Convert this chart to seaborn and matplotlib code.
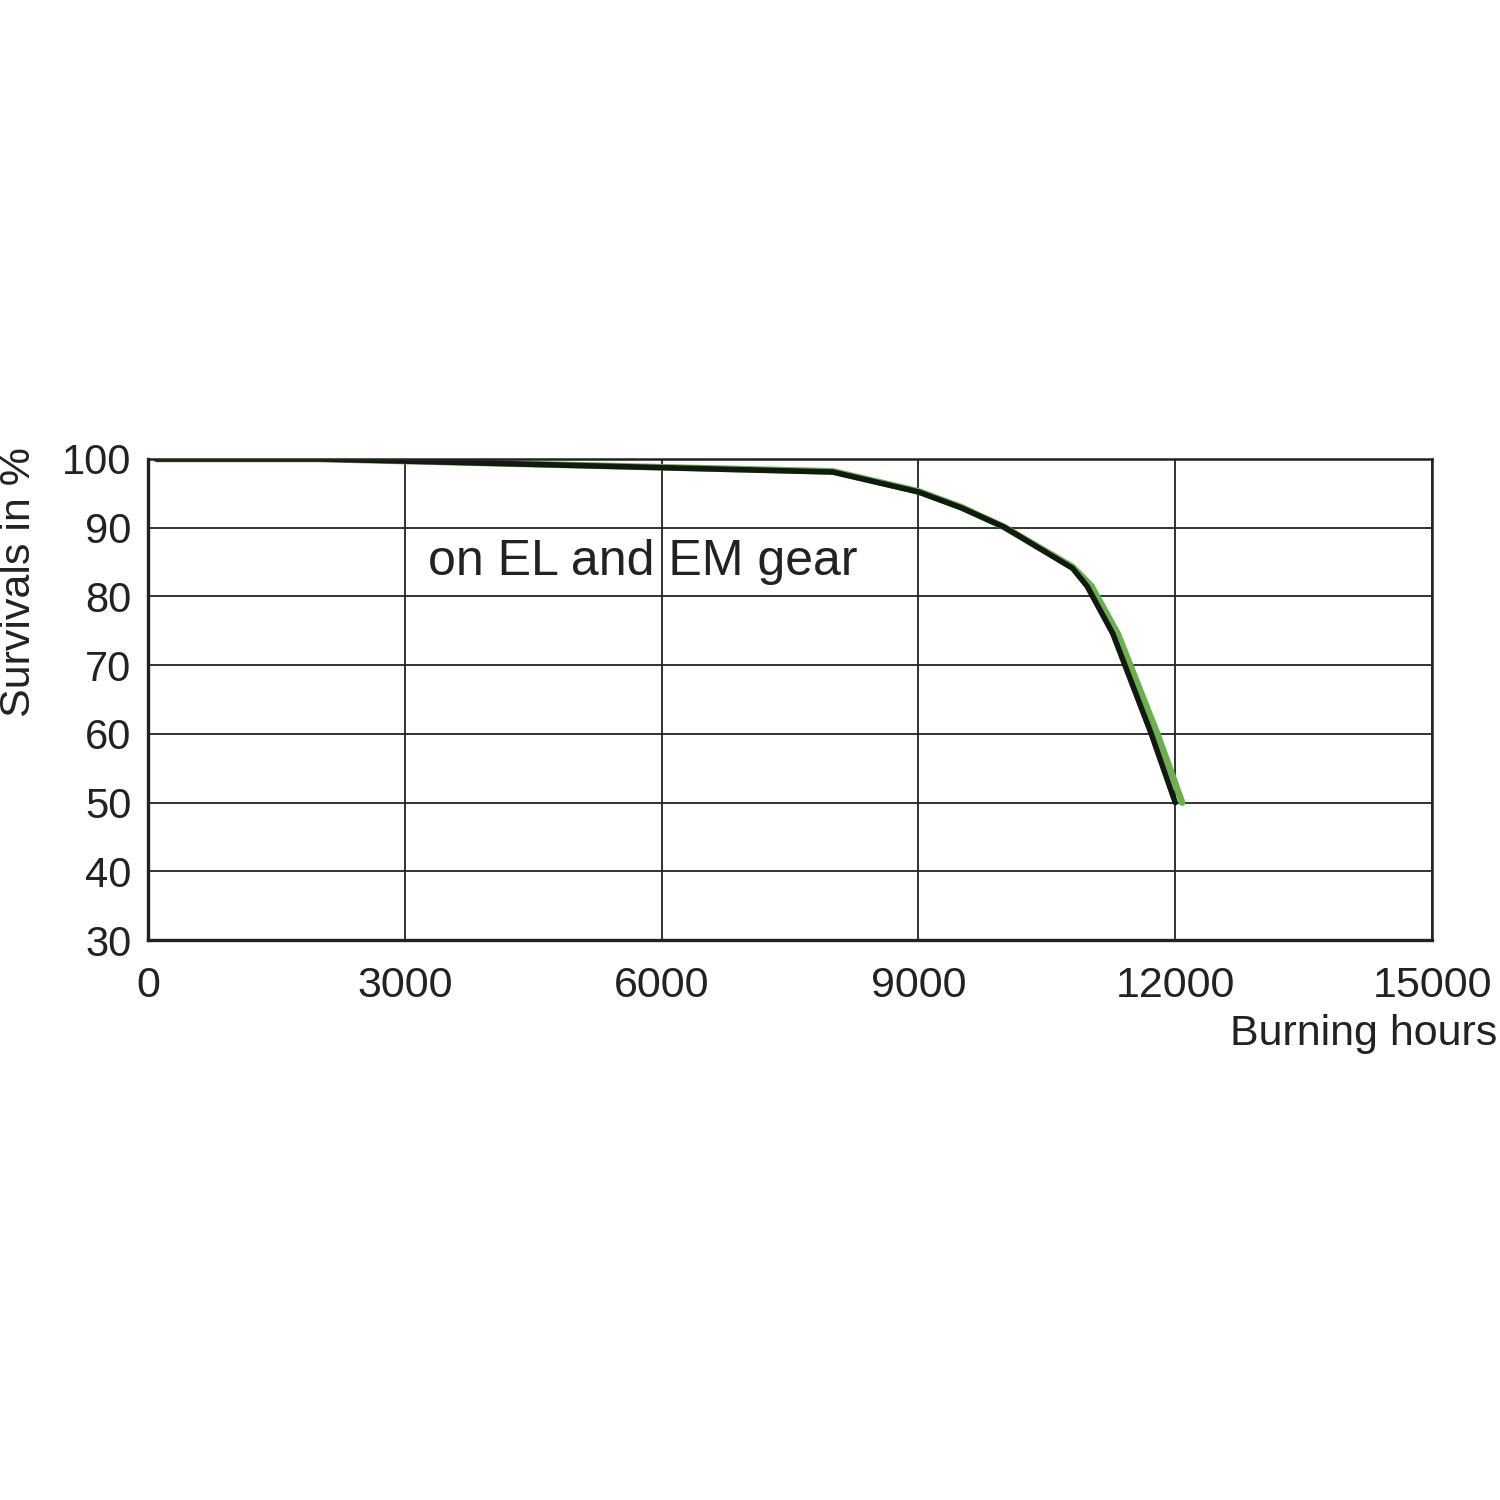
import pandas as pd
import matplotlib.pyplot as plt
import seaborn as sns

sns.set_style("white")
plt.rcParams['font.family'] = ['Liberation Sans', 'DejaVu Sans']

# data
hours_black = [100, 2000, 3000, 8000, 9000, 9500, 10000, 10800, 10970, 11270, 11720, 12000]
surv_black = [100, 100, 99.7, 98.1, 95.2, 92.9, 90.1, 84.1, 81.5, 74.6, 60.0, 50.0]
hours_green = [100, 2000, 3000, 8000, 9000, 9500, 10000, 10800, 11020, 11330, 11790, 12080]
surv_green = [100, 100, 99.7, 98.2, 95.3, 93.0, 90.1, 84.3, 81.5, 74.5, 60.0, 50.0]

x_ticks = [0, 3000, 6000, 9000, 12000, 15000]
y_ticks = [30, 40, 50, 60, 70, 80, 90, 100]

df_black = pd.DataFrame({"hours": hours_black, "survival": surv_black})
df_green = pd.DataFrame({"hours": hours_green, "survival": surv_green})

fig = plt.figure(figsize=(15, 15), dpi=100)
ax = fig.add_axes([0.0987, 0.3733, 0.856, 0.3207])

sns.lineplot(data=df_green, x="hours", y="survival", ax=ax, color="#6ab04c", linewidth=4.8, sort=False)
sns.lineplot(data=df_black, x="hours", y="survival", ax=ax, color="#111a11", linewidth=4.0, sort=False)

ax.set_xlim(0, 15000)
ax.set_ylim(30, 100)
ax.set_xticks(x_ticks)
ax.set_yticks(y_ticks)
ax.set_xticklabels([str(t) for t in x_ticks], fontsize=31)
ax.set_yticklabels([str(t) for t in y_ticks], fontsize=30)
ax.tick_params(axis="x", length=0, pad=19, colors="#222222")
ax.tick_params(axis="y", length=0, pad=12, colors="#222222")
ax.grid(True, color="#222222", linewidth=1.3)
ax.set_axisbelow(True)
for side in ["left", "bottom"]:
    ax.spines[side].set_linewidth(2.4)
    ax.spines[side].set_color("#222222")
for side in ["top", "right"]:
    ax.spines[side].set_linewidth(1.8)
    ax.spines[side].set_color("#222222")
ax.set_xlabel("")
ax.set_ylabel("")

ax.text(3270, 85, "on EL and EM gear", fontsize=36, va="center", ha="left", color="#222222")

fig.text(0.013, 0.612, "Survivals in %", rotation=90, fontsize=31, va="center", ha="center", color="#222222")
fig.text(0.998, 0.311, "Burning hours", fontsize=31, va="center", ha="right", color="#222222")

fig.savefig("out.png", dpi=100)
